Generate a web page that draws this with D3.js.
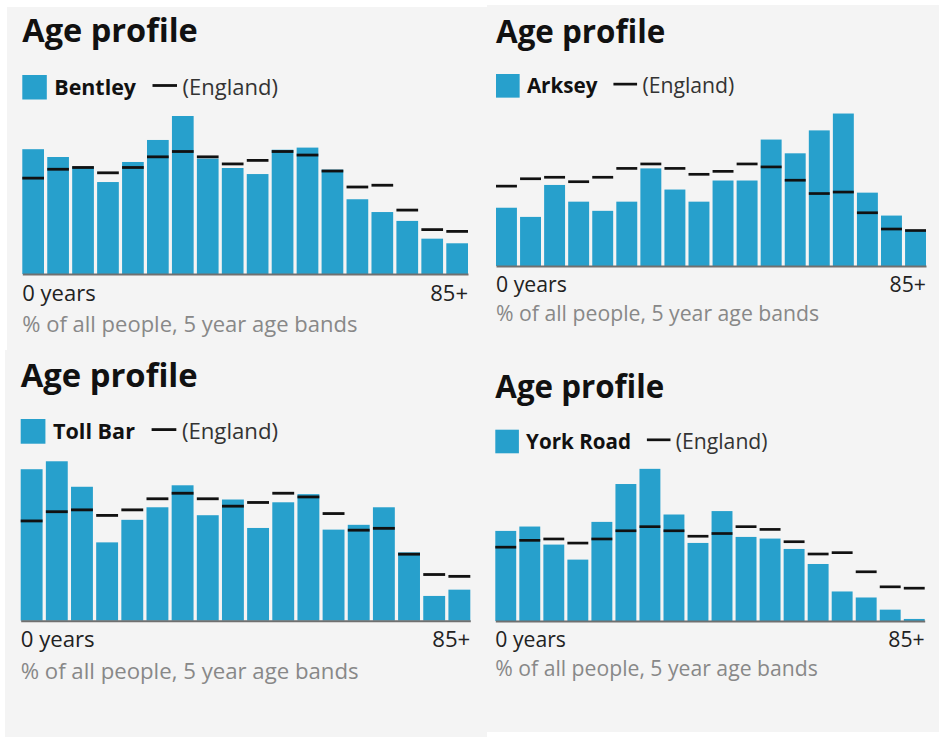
<!DOCTYPE html>
<html>
<head>
<meta charset="utf-8">
<script src="https://cdn.jsdelivr.net/npm/d3@7"></script>
<style>
  html, body { margin: 0; padding: 0; background: #ffffff; }
  svg { display: block; }
  text { font-family: "Open Sans", "Noto Sans", sans-serif; }
</style>
</head>
<body>
<svg id="chart" width="939" height="738"></svg>
<script>
// ---- data ----
const ageBands = ["0-4","5-9","10-14","15-19","20-24","25-29","30-34","35-39","40-44",
                  "45-49","50-54","55-59","60-64","65-69","70-74","75-79","80-84","85+"];
const england  = [5.4, 5.9, 6.0, 5.7, 6.0, 6.6, 6.9, 6.6, 6.2, 6.4, 6.9, 6.7, 5.8, 4.9, 5.0, 3.6, 2.5, 2.4];
const bentley  = [7.03, 6.59, 6.05, 5.18, 6.31, 7.55, 8.90, 6.50, 5.97, 5.63, 7.00, 7.12, 5.88, 4.21, 3.49, 2.99, 1.99, 1.73];
const arksey   = [3.94, 3.32, 5.48, 4.35, 3.73, 4.35, 6.60, 5.17, 4.35, 5.78, 5.78, 8.55, 7.62, 9.17, 10.31, 4.96, 3.41, 2.42];
const tollBar  = [8.20, 8.63, 7.25, 4.24, 5.46, 6.14, 7.33, 5.71, 6.56, 5.02, 6.41, 6.85, 4.93, 5.19, 6.14, 3.70, 1.34, 1.68];
const yorkRoad = [6.59, 6.91, 5.59, 4.49, 7.25, 10.02, 11.13, 7.79, 5.71, 8.04, 6.15, 6.03, 5.27, 4.17, 2.16, 1.72, 0.83, 0.15];
const areaNames = ["Bentley", "Arksey", "Toll Bar", "York Road"];
const areaSeries = [bentley, arksey, tollBar, yorkRoad];
const comparatorLabel = "(England)";
const titleText = "Age profile";
const axisEndLabels = ["0 years", "85+"];
const subtitleText = "% of all people, 5 year age bands";

const backgrounds = [
  {x: 7,   y: 7,   w: 480, h: 345},
  {x: 487, y: 5,   w: 452, h: 345},
  {x: 5,   y: 350, w: 482, h: 387},
  {x: 487, y: 350, w: 452, h: 382}
];
const panels = [
  {left: 22.3,  right: 468,   titleY: 41.7,  legendTop: 75,    axisY: 274,   k: 1.0},
  {left: 496,   right: 926,   titleY: 43.3,  legendTop: 74,    axisY: 266,   k: 0.965},
  {left: 20.7,  right: 470.3, titleY: 386.7, legendTop: 419,   axisY: 620.7, k: 1.009},
  {left: 495.3, right: 924.7, titleY: 398.3, legendTop: 429.7, axisY: 621,   k: 0.963}
];

const BAR = "#27a0cc";
const BG = "#f4f4f4";
const svg = d3.select("#chart");

svg.selectAll("rect.bg").data(backgrounds).join("rect")
  .attr("class", "bg")
  .attr("x", d => d.x).attr("y", d => d.y)
  .attr("width", d => d.w).attr("height", d => d.h)
  .attr("fill", BG);

panels.forEach((p, i) => {
  const k = p.k;
  const values = areaSeries[i];
  const g = svg.append("g");

  // title
  g.append("text")
    .attr("x", p.left).attr("y", p.titleY)
    .attr("font-size", 32.5 * k).attr("font-weight", 700)
    .attr("fill", "#111")
    .text(titleText);

  // legend
  const sq = 24.5 * k;
  g.append("rect")
    .attr("x", p.left).attr("y", p.legendTop)
    .attr("width", sq).attr("height", sq)
    .attr("fill", BAR);
  const lab = g.append("text")
    .attr("x", p.left + 32 * k).attr("y", p.legendTop + 20 * k)
    .attr("font-size", 21.4 * k).attr("font-weight", 700)
    .attr("fill", "#111")
    .text(areaNames[i]);
  const labEnd = p.left + 32 * k + lab.node().getComputedTextLength();
  const dashX = labEnd + 16.5 * k;
  g.append("line")
    .attr("x1", dashX).attr("x2", dashX + 24.5 * k)
    .attr("y1", p.legendTop + 10.5 * k).attr("y2", p.legendTop + 10.5 * k)
    .attr("stroke", "#111").attr("stroke-width", 2.8 * k);
  g.append("text")
    .attr("x", dashX + 30 * k).attr("y", p.legendTop + 20 * k)
    .attr("font-size", 22 * k)
    .attr("fill", "#333")
    .text(comparatorLabel);

  // scales
  const x = d3.scaleBand().domain(ageBands).range([p.left, p.right])
    .paddingInner(0.13).paddingOuter(0);
  const yMax = d3.max(values.concat(england));
  const y = d3.scaleLinear().domain([0, yMax]).range([p.axisY, p.axisY - 158 * k]);

  // bars
  g.selectAll("rect.bar").data(values).join("rect")
    .attr("class", "bar")
    .attr("x", (d, j) => x(ageBands[j]))
    .attr("width", x.bandwidth())
    .attr("y", d => y(d))
    .attr("height", d => p.axisY - y(d))
    .attr("fill", BAR);

  // England markers
  g.selectAll("line.eng").data(england).join("line")
    .attr("class", "eng")
    .attr("x1", (d, j) => x(ageBands[j]))
    .attr("x2", (d, j) => x(ageBands[j]) + x.bandwidth())
    .attr("y1", d => y(d)).attr("y2", d => y(d))
    .attr("stroke", "#111").attr("stroke-width", 2.8 * k);

  // axis baseline
  const axis = d3.axisBottom(x).tickValues([]).tickSizeOuter(0);
  const ag = g.append("g").attr("transform", `translate(0,${p.axisY})`).call(axis);
  ag.select(".domain").attr("stroke", "#707070").attr("stroke-width", 2);

  // axis end labels
  g.append("text")
    .attr("x", p.left).attr("y", p.axisY + 26.5 * k)
    .attr("font-size", 22 * k).attr("fill", "#222")
    .text(axisEndLabels[0]);
  g.append("text")
    .attr("x", p.right).attr("y", p.axisY + 26.5 * k)
    .attr("text-anchor", "end")
    .attr("font-size", 22 * k).attr("fill", "#222")
    .text(axisEndLabels[1]);
  g.append("text")
    .attr("x", p.left).attr("y", p.axisY + 57.5 * k)
    .attr("font-size", 22 * k).attr("fill", "#888")
    .text(subtitleText);
});
</script>
</body>
</html>
